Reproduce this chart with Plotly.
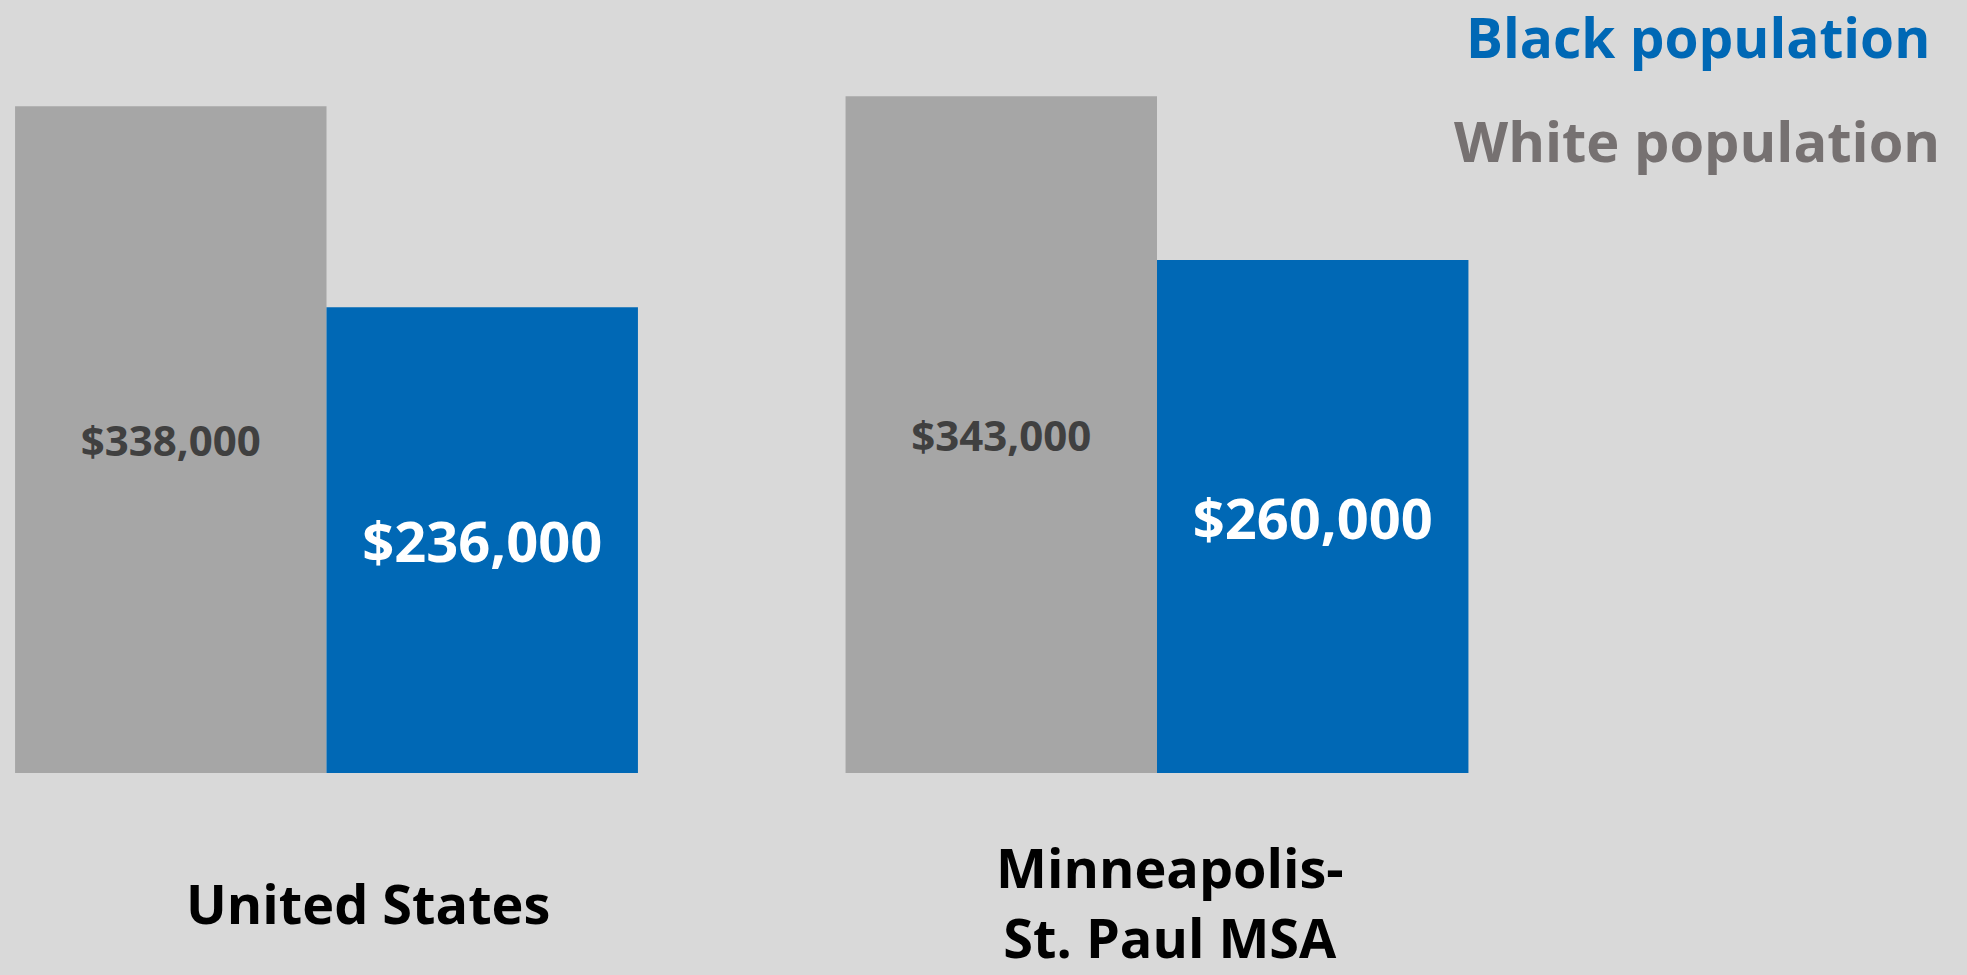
import plotly.graph_objects as go

categories = ["United States", "Minneapolis-<br>St. Paul MSA"]
white_values = [338000, 343000]
black_values = [236000, 260000]
series_names = ["White population", "Black population"]

BG = "#D9D9D9"
GRAY = "#A6A6A6"
BLUE = "#0068B5"
FONT = "Open Sans"

x_idx = [0, 1]

fig = go.Figure()
fig.add_trace(go.Bar(
    x=x_idx, y=white_values, name=series_names[0],
    marker=dict(color=GRAY, line=dict(width=0)),
    texttemplate="$%{y:,.0f}", textposition="inside", insidetextanchor="middle",
    textfont=dict(family=FONT, size=42, color="#404040", weight="bold"),
    textangle=0,
))
fig.add_trace(go.Bar(
    x=x_idx, y=black_values, name=series_names[1],
    marker=dict(color=BLUE, line=dict(width=0)),
    texttemplate="$%{y:,.0f}", textposition="inside", insidetextanchor="middle",
    textfont=dict(family=FONT, size=56, color="white", weight="bold"),
    textangle=0,
))

W, H = 1967, 975
b = 202
px_per_unit = 830.5
x0 = -326.5 / px_per_unit
x1 = x0 + W / px_per_unit
ymax = (H - b) / 0.001973

fig.update_layout(
    width=W, height=H,
    margin=dict(l=0, r=0, t=0, b=b),
    paper_bgcolor=BG, plot_bgcolor=BG,
    barmode="group", bargap=0.25, bargroupgap=0,
    showlegend=False,
    xaxis=dict(range=[x0, x1], visible=False, fixedrange=True),
    yaxis=dict(range=[0, ymax], visible=False, fixedrange=True),
)

# category labels
fig.add_annotation(
    text=categories[0], xref="paper", yref="paper",
    x=367.5 / W, y=1 - 903 / (H - b), xanchor="center", yanchor="middle",
    showarrow=False, align="center",
    font=dict(family=FONT, size=54, color="black", weight="bold"),
)
fig.add_annotation(
    text=categories[1], xref="paper", yref="paper",
    x=1170 / W, y=-b / (H - b), xanchor="center", yanchor="bottom",
    showarrow=False, align="center", borderpad=0,
    font=dict(family=FONT, size=54, color="black", weight="bold"),
)

# legend-like labels
fig.add_annotation(text=series_names[1], xref="paper", yref="paper",
                   x=1698 / W, y=1 - 37 / (H - b), xanchor="center", yanchor="middle",
                   showarrow=False,
                   font=dict(family=FONT, size=55, color=BLUE, weight="bold"))
fig.add_annotation(text=series_names[0], xref="paper", yref="paper",
                   x=1697 / W, y=1 - 140 / (H - b), xanchor="center", yanchor="middle",
                   showarrow=False,
                   font=dict(family=FONT, size=56, color="#767171", weight="bold"))

fig.write_html("out.html",
               config={"displayModeBar": False},
               post_script="document.body.style.margin='0';document.body.style.background='#D9D9D9';")
